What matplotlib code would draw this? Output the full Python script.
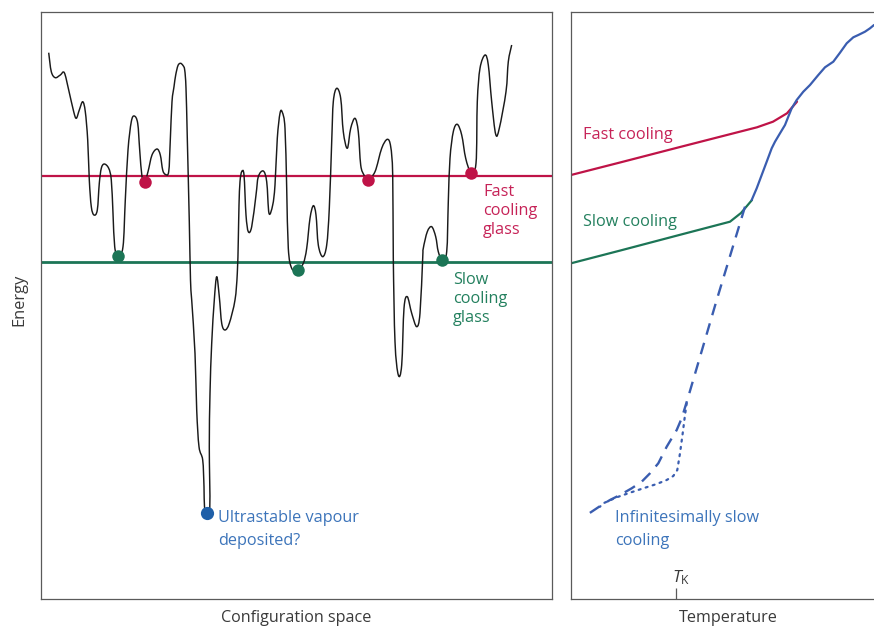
import matplotlib
matplotlib.use("Agg")
import matplotlib.pyplot as plt
from matplotlib.path import Path
from matplotlib.patches import PathPatch

plt.rcParams['font.family'] = ['Open Sans', 'DejaVu Sans']
plt.rcParams['mathtext.fontset'] = 'custom'
plt.rcParams['mathtext.it'] = 'Open Sans:italic'
plt.rcParams['mathtext.rm'] = 'Open Sans'

# ---- Left panel: energy landscape (x: configuration, y: energy in screen units, down = lower) ----
land_x = [48.7, 51.3, 55.3, 60.3, 64.3, 68.7, 73.7, 76.3, 79.3, 82.7, 85.3, 87.7, 89.3, 91.3, 94,
          97.3, 99.3, 101.3, 104.3, 108.7, 111.3, 113, 114.7, 118, 123, 125.3, 128, 131.3, 134.3,
          137.7, 139.7, 142, 144.7, 148, 152, 157, 160.3, 162.7, 165.3, 168.7, 170.3, 172, 174,
          175.7, 178, 180.5, 183, 184.7, 186, 187.3, 189.3, 190.5, 191.7, 195, 196.7, 199, 202.7,
          204, 204.5, 206.7, 209.8, 209.3, 210, 211.7, 214.3, 216.7, 219.3, 221.7, 225, 229.3,
          235, 237.3, 238.3, 239, 240, 241.7, 244, 246, 248.3, 251.7, 256, 258.3, 263.3, 266.7,
          269, 272.7, 275, 277.3, 280, 282.3, 285, 286.7, 288.3, 291.7, 297.5, 303.3, 306.7, 310,
          313.3, 316, 318.3, 322.7, 326.7, 329.3, 331.7, 333.3, 336.7, 340.7, 343.3, 347.3, 350.7,
          355, 358.3, 360.7, 364, 367.7, 375, 381.7, 387.3, 390.7, 392.7, 393.3, 395, 398.3, 401.7,
          404, 407.3, 411.7, 416.7, 420, 422.7, 423.3, 427.3, 431.7, 435.7, 438.3, 442.3, 446.7,
          448.3, 450, 453.3, 457.3, 461.7, 465.7, 470.7, 476, 477.3, 480, 485, 488.3, 491.7,
          495.7, 499.3, 506, 508.3, 511.7]
land_y = [52.7, 71.7, 77.7, 75, 72.7, 90, 111.7, 118.3, 110, 101.7, 111.7, 140, 180, 206.7, 215,
          210, 183.3, 168.3, 164, 168.3, 180, 213.3, 246.7, 256.7, 246.7, 200, 150, 121.7, 116,
          123.3, 150, 176.7, 181.7, 171.7, 155, 149, 155, 170, 174.3, 171.7, 140, 101.7, 86.7,
          75, 65.5, 63.3, 65.5, 70, 88.3, 138.3, 221.7, 280, 300, 353.3, 410, 446.7, 460,
          486.7, 506.7, 513, 506.7, 446.7, 393.3, 343.3, 300, 276.7, 296.7, 323.3, 330, 323.3,
          300, 273.3, 240, 205, 181.7, 171.7, 175, 215, 231.7, 226.7, 195, 176.7, 171, 181.7,
          213.3, 205, 185, 138.3, 113.3, 112.3, 128.3, 188.3, 248.3, 268.3, 270, 263.3, 248.3, 218.3,
          205.7, 215, 245, 256.7, 245, 208.3, 141.7, 101.7, 88.3, 98.3, 131.7, 148.3, 128.3,
          118.3, 131.7, 165, 175, 179.5, 171.7, 148.3, 139.3, 146.7, 175, 258.3, 341.7, 375, 365,
          308.3, 296.7, 313.3, 326.7, 313.3, 258, 248.3, 231.7, 226.7, 236.7, 251.7, 260, 251.7,
          201.7, 158.3, 131.7, 124.3, 135, 158.3, 171.7, 163.3, 101.7, 68.3, 55, 65, 101.7,
          134.3, 128.3, 91.7, 61.7, 45]

fast_level = 176
slow_level = 262
fast_dots_x = [145, 368, 471]
fast_dots_y = [182, 180, 173]
slow_dots_x = [118, 297.5, 442.3]
slow_dots_y = [256, 270, 260]
ultra_dot_x = [206.7]
ultra_dot_y = [513]

# ---- Right panel: energy vs temperature ----
fast_T = [571, 620, 680, 730, 757, 773, 787, 797]
fast_E = [175, 162.5, 147, 134.2, 127.3, 121.7, 113.3, 101.7]
slow_T = [571, 620, 680, 730, 741, 752]
slow_E = [263.3, 250.6, 234.8, 221.7, 213, 200]
liq_T = [751.7, 756.7, 761.7, 766.7, 771.7, 775, 780, 785, 788.3, 791.7, 796.7, 803.3, 810,
         818.3, 825, 833.3, 840, 846.7, 853.3, 858.3, 865, 870, 874]
liq_E = [200, 188.3, 175, 161.7, 148.3, 141.7, 133.3, 125, 116.7, 108.3, 100, 91.7, 85,
         75, 67.3, 61.7, 52.7, 43.3, 37.3, 35, 31.7, 28.3, 25]
dash_T = [745, 716.7, 688.3, 681.7, 676.7, 666.7, 658.3, 650, 641.7, 631.7, 620, 610, 601.7, 586.7]
dash_E = [206.7, 300, 396.7, 418.3, 430, 446.7, 463.3, 473.3, 481.7, 488.3, 495, 500, 505, 515]
dot_T = [686.7, 685, 682.7, 680, 677.3, 673.3, 666.7, 656.7, 643.3, 630, 616.7, 603.3, 600]
dot_E = [403.3, 415, 433.3, 453.3, 470, 476, 480, 484, 488.3, 492.7, 497.3, 503.3, 506.7]
T_K = 676

RED = '#BF1347'
RED_T = '#C62257'
GREEN = '#1C7556'
GREEN_T = '#23805E'
BLUE = '#3A5DB0'
BLUE_DOT = '#1F5FA8'
BLUE_T = '#3C74BA'
SPINE = '#5a5a5a'
TXT = '#3a3a3a'


def smooth_path(xs, ys):
    """Catmull-Rom spline through the given points, rendered as cubic Bezier segments."""
    pts = list(zip(xs, ys))
    n = len(pts)
    verts = [pts[0]]
    codes = [Path.MOVETO]
    for i in range(n - 1):
        p0 = pts[i - 1] if i > 0 else pts[i]
        p1 = pts[i]
        p2 = pts[i + 1]
        p3 = pts[i + 2] if i + 2 < n else pts[i + 1]
        c1 = (p1[0] + (p2[0] - p0[0]) / 6.0, p1[1] + (p2[1] - p0[1]) / 6.0)
        c2 = (p2[0] - (p3[0] - p1[0]) / 6.0, p2[1] - (p3[1] - p1[1]) / 6.0)
        verts += [c1, c2, p2]
        codes += [Path.CURVE4, Path.CURVE4, Path.CURVE4]
    return Path(verts, codes)


W, H = 874, 627
fig = plt.figure(figsize=(W / 100, H / 100), dpi=100)

ax1 = fig.add_axes([41 / W, 1 - 599 / H, 511 / W, 587 / H])
ax2 = fig.add_axes([571 / W, 1 - 599 / H, 305 / W, 587 / H])

for ax, (x0, x1) in ((ax1, (41, 552)), (ax2, (571, 876))):
    ax.set_xlim(x0, x1)
    ax.set_ylim(599, 12)
    ax.set_yticks([])
    for s in ax.spines.values():
        s.set_color(SPINE)
        s.set_linewidth(0.9)

ax1.set_xticks([])
ax2.spines['right'].set_visible(False)

# left panel
ax1.axhline(fast_level, color=RED, lw=1.6, zorder=1)
ax1.axhline(slow_level, color=GREEN, lw=2.0, zorder=1)
ax1.add_patch(PathPatch(smooth_path(land_x, land_y), facecolor='none', edgecolor='#1a1a1a',
                        lw=1.05, joinstyle='round', zorder=2))
ax1.plot(fast_dots_x, fast_dots_y, 'o', color=RED, ms=9, mec='none', zorder=3)
ax1.plot(slow_dots_x, slow_dots_y, 'o', color=GREEN, ms=9, mec='none', zorder=3)
ax1.plot(ultra_dot_x, ultra_dot_y, 'o', color=BLUE_DOT, ms=9.5, mec='none', zorder=3)

fs = 11.7
ax1.text(483, 211, 'Fast\ncooling\nglass', color=RED_T, fontsize=fs, ha='left', va='center',
         linespacing=1.22)
ax1.text(453, 299, 'Slow\ncooling\nglass', color=GREEN_T, fontsize=fs, ha='left', va='center',
         linespacing=1.22)
ax1.text(218, 529.5, 'Ultrastable vapour\ndeposited?', color=BLUE_T, fontsize=fs, ha='left',
         va='center', linespacing=1.55)

# right panel
ax2.plot(fast_T, fast_E, color=RED, lw=1.6, solid_capstyle='round')
ax2.plot(slow_T, slow_E, color=GREEN, lw=1.6, solid_capstyle='round')
ax2.plot(liq_T, liq_E, color=BLUE, lw=1.6, solid_capstyle='round')
ax2.plot(dash_T, dash_E, color=BLUE, lw=1.7, dashes=(5.0, 3.6))
ax2.plot(dot_T, dot_E, color=BLUE, lw=1.6, dashes=(0.9, 2.4), dash_capstyle='round')

ax2.set_xticks([T_K])
ax2.set_xticklabels([])
ax2.tick_params(axis='x', direction='in', length=8, width=0.9, color=SPINE)

ax2.text(583, 135, 'Fast cooling', color=RED_T, fontsize=fs, ha='left', va='center')
ax2.text(583, 222, 'Slow cooling', color=GREEN_T, fontsize=fs, ha='left', va='center')
ax2.text(615, 529.5, 'Infinitesimally slow\ncooling', color=BLUE_T, fontsize=fs, ha='left',
         va='center', linespacing=1.55)
ax2.text(T_K - 4, 578, r'$T_{\mathrm{K}}$', color=TXT, fontsize=12.5, ha='left', va='center')

fig.text(296.5 / W, 1 - 618 / H, 'Configuration space', color=TXT, fontsize=11.6,
         ha='center', va='center')
fig.text(728 / W, 1 - 618 / H, 'Temperature', color=TXT, fontsize=11.6,
         ha='center', va='center')
fig.text(19 / W, 1 - 300 / H, 'Energy', color=TXT, fontsize=11.8, rotation=90,
         ha='center', va='center')

fig.savefig('out.png', dpi=100)
